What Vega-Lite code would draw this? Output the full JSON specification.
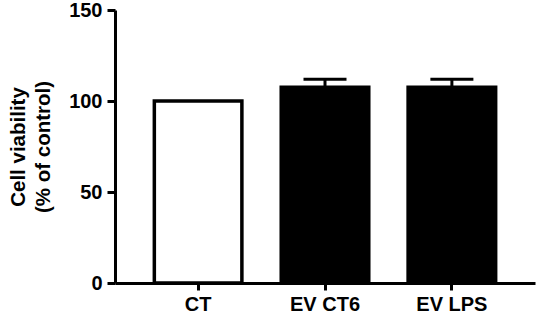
{
  "$schema": "https://vega.github.io/schema/vega-lite/v6.json",
  "width": 420,
  "height": 273,
  "autosize": {"type": "none"},
  "padding": {"left": 115, "top": 10, "right": 5, "bottom": 33},
  "background": "white",
  "config": {
    "view": {"stroke": null},
    "font": "Liberation Sans",
    "axis": {
      "domainColor": "black",
      "domainWidth": 3,
      "tickColor": "black",
      "tickWidth": 3,
      "labelColor": "black",
      "labelFont": "Liberation Sans",
      "labelFontWeight": "bold",
      "labelFontSize": 20,
      "titleFont": "Liberation Sans",
      "titleFontWeight": "bold",
      "titleFontSize": 20.5,
      "titleColor": "black",
      "grid": false
    }
  },
  "data": {
    "values": [
      {"group": "CT", "mean": 100, "upper": 100},
      {"group": "EV CT6", "mean": 107.5, "upper": 112},
      {"group": "EV LPS", "mean": 107.5, "upper": 112}
    ]
  },
  "layer": [
    {
      "mark": {"type": "bar", "stroke": "black", "strokeWidth": 3.5},
      "encoding": {
        "x": {
          "field": "group",
          "type": "nominal",
          "sort": null,
          "scale": {"paddingInner": 0.31, "paddingOuter": 0.31},
          "axis": {"title": null, "labelAngle": 0, "tickSize": 7, "labelPadding": 4}
        },
        "y": {
          "field": "mean",
          "type": "quantitative",
          "scale": {"domain": [0, 150], "nice": false},
          "axis": {
            "values": [0, 50, 100, 150],
            "tickSize": 8,
            "labelPadding": 5,
            "title": ["Cell viability", "(% of control)"],
            "titleLineHeight": 25,
            "titlePadding": 15
          }
        },
        "fill": {
          "field": "group",
          "type": "nominal",
          "scale": {"domain": ["CT", "EV CT6", "EV LPS"], "range": ["white", "black", "black"]},
          "legend": null
        }
      }
    },
    {
      "transform": [{"filter": "datum.upper > datum.mean"}],
      "mark": {"type": "rule", "color": "black", "strokeWidth": 3},
      "encoding": {
        "x": {"field": "group", "type": "nominal", "sort": null},
        "y": {"field": "mean", "type": "quantitative"},
        "y2": {"field": "upper"}
      }
    },
    {
      "transform": [{"filter": "datum.upper > datum.mean"}],
      "mark": {"type": "tick", "color": "black", "thickness": 3, "size": 43, "opacity": 1},
      "encoding": {
        "x": {"field": "group", "type": "nominal", "sort": null},
        "y": {"field": "upper", "type": "quantitative"}
      }
    }
  ]
}
